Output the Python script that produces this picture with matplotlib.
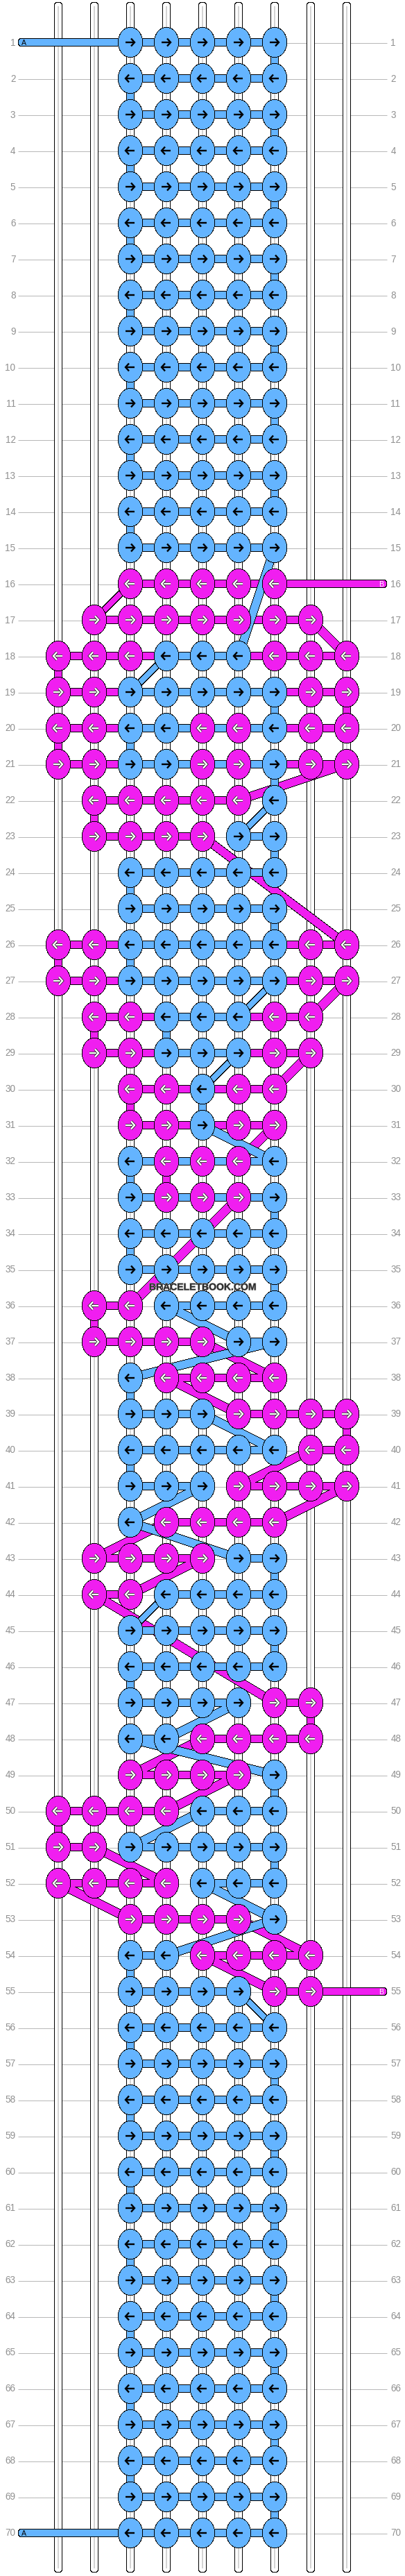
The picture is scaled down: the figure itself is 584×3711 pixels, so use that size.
import matplotlib
matplotlib.use('Agg')
import matplotlib.pyplot as plt
import matplotlib.patheffects as pe
from matplotlib.patches import Ellipse
import numpy as np

PX = 0.72  # one pixel in points at dpi 100

blue = '#64B4FF'
magenta = '#F01EF0'

n_rows = 70
col_x = 84 + 52 * np.arange(9)
row_y = 62 + 52 * np.arange(n_rows)

# knots per row, b = blue, m = magenta, . = no knot
plain_knots = '..bbbbb..'
knot_rows = {
    16: '..mmmmm..', 17: '.mmmmmmm.', 18: 'mmmbbbmmm', 19: 'mmbbbbbmm',
    20: 'mmbbmmbmm', 21: 'mmbbmmbmm', 22: '.mmmmmb..', 23: '.mmmmbb..',
    26: 'mmbbbbbmm', 27: 'mmbbbbbmm', 28: '.mmbbbmm.', 29: '.mmbbbmm.',
    30: '..mmbmm..', 31: '..mmbmm..', 32: '..bmmmb..', 33: '..bmmmb..',
    36: '.mmbbbb..', 37: '.mmmmbb..', 38: '..bmmmm..', 39: '..bbbmmmm',
    40: '..bbbbbmm', 41: '..bbbmmmm', 42: '..bmmmm..', 43: '.mmmmbb..',
    44: '.mmbbbb..', 47: '..bbbbmm.', 48: '..bbmmmm.', 49: '..mmmmb..',
    50: 'mmmmbbb..', 51: 'mmbbbbb..', 52: 'mmmmbbb..', 53: '..mmmmb..',
    54: '..bbmmmm.', 55: '..bbbbmm.',
}

# horizontal links between neighbouring columns
plain_links = '..bbbb..'
link_rows = {
    16: '..mmmm..', 17: '.mmmmmm.', 18: 'mmmbbmmm', 19: 'mmbbbbmm',
    20: 'mmbbbbmm', 21: 'mmbbbbmm', 22: '.mmmm...', 23: '.mmm.b..',
    26: 'mmbbbbmm', 27: 'mmbbbbmm', 28: '.mmbbmm.', 29: '.mmbbmm.',
    30: '..mmmm..', 31: '..mmmm..', 32: '..bbbb..', 33: '..bbbb..',
    36: '.m.bbb..', 37: '.mmm.b..', 38: '...mmm..', 39: '..bb.mmm',
    40: '..bbbb.m', 41: '..bb.mmm', 42: '...mmm..', 43: '.mmm.b..',
    44: '.m.bbb..', 47: '..bbb.m.', 48: '..b.mmm.', 49: '..mmm...',
    50: 'mmm.bb..', 51: 'm.bbbb..', 52: 'mmm.bb..', 53: '..mmm...',
    54: '..b.mmm.', 55: '..bbb.m.',
}

# vertical links: row -> column, going down to the next row
blue_turns = [(1, 6), (2, 2), (3, 6), (4, 2), (5, 6), (6, 2), (7, 6), (8, 2), (9, 6), (10, 2),
              (11, 6), (12, 2), (13, 6), (14, 2), (19, 6), (20, 2), (21, 6), (23, 6), (24, 2),
              (25, 6), (26, 2), (28, 3), (30, 4), (32, 2), (33, 6), (34, 2), (35, 6), (38, 2),
              (40, 2), (43, 6), (45, 6), (46, 2), (49, 6), (51, 6), (54, 2), (56, 2), (57, 6),
              (58, 2), (59, 6), (60, 2), (61, 6), (62, 2), (63, 6), (64, 2), (65, 6), (66, 2),
              (67, 6), (68, 2), (69, 6)]
magenta_turns = [(18, 0), (19, 8), (20, 0), (22, 1), (26, 0), (28, 1), (30, 2), (32, 3),
                 (36, 1), (39, 8), (47, 7), (50, 0)]

# diagonal runs: row, col, row, col
blue_diagonals = [(15, 6, 18, 5), (18, 3, 19, 2), (22, 6, 23, 5), (27, 6, 28, 5), (29, 5, 30, 4),
                  (31, 4, 32, 6), (36, 3, 37, 5), (37, 6, 38, 2), (39, 4, 40, 6), (41, 4, 42, 2),
                  (42, 2, 43, 5), (44, 3, 45, 2), (47, 5, 48, 3), (48, 2, 49, 6), (50, 4, 51, 2),
                  (52, 4, 53, 6), (53, 6, 54, 3), (55, 5, 56, 6)]
magenta_diagonals = [(16, 2, 17, 1), (17, 7, 18, 8), (21, 8, 22, 5), (23, 4, 26, 8), (27, 8, 28, 7),
                     (29, 7, 30, 6), (31, 6, 32, 5), (33, 5, 36, 2), (37, 4, 38, 6), (38, 3, 39, 5),
                     (40, 7, 41, 5), (41, 8, 42, 6), (42, 3, 43, 1), (43, 4, 44, 2), (44, 1, 47, 6),
                     (48, 4, 49, 2), (49, 5, 50, 3), (51, 1, 52, 3), (52, 0, 53, 2), (53, 5, 54, 7),
                     (54, 4, 55, 6)]

# tails: row and column where the thread comes in
blue_tails = [(1, 2), (70, 2)]
magenta_tails = [(16, 6), (55, 7)]

plt.rcParams['font.family'] = ['Liberation Sans', 'DejaVu Sans']

fig = plt.figure(figsize=(5.84, 37.12), dpi=100)
ax = fig.add_axes([0, 0, 1, 1])
ax.set_xlim(0, 584)
ax.set_ylim(3712, 0)
ax.axis('off')


def Y(row):
    return row_y[row - 1]


# row lines and numbers
for r in range(1, n_rows + 1):
    ax.plot([26, 558], [Y(r) + 0.5, Y(r) + 0.5], color='#b8b8b8', lw=1 * PX, zorder=1, solid_capstyle='butt')
    ax.text(22.5, Y(r) - 0.5, str(r), color='#909090', fontsize=13.5 * PX, ha='right', va='center', zorder=1)
    ax.text(563.5, Y(r) - 0.5, str(r), color='#909090', fontsize=13.5 * PX, ha='left', va='center', zorder=1)

# the white strings
for x in col_x:
    ax.plot([x, x], [10.4, 3701], color='black', lw=12 * PX, solid_capstyle='round', zorder=2, antialiased=False)
    ax.plot([x, x], [10.4, 3701], color='white', lw=10 * PX, solid_capstyle='round', zorder=2.1, antialiased=False)
    ax.plot([x, x], [10.4, 3701], color='#d4d4d4', lw=2 * PX, solid_capstyle='butt', zorder=2.2, antialiased=False)


def thread_segments(code, turns, diagonals, tails):
    # straight pieces of one thread, as (xs, ys, thin)
    segs = []
    for r in range(1, n_rows + 1):
        links = link_rows.get(r, plain_links)
        for g, c in enumerate(links):
            if c == code:
                segs.append(([col_x[g], col_x[g + 1]], [Y(r), Y(r)], False))
    for r, c in turns:
        segs.append(([col_x[c], col_x[c]], [Y(r), Y(r + 1)], False))
    for r1, c1, r2, c2 in diagonals:
        steep = abs(c2 - c1) == 1 and r2 - r1 == 1
        thin = steep and (code == 'b' or (r1, c1) == (16, 2))
        segs.append(([col_x[c1], col_x[c2]], [Y(r1), Y(r2)], thin))
    for r, c in tails:
        end = 32.4 if code == 'b' else 552.3
        segs.append(([end, col_x[c]], [Y(r), Y(r)], None))
    return segs


def draw_thread(code, color, turns, diagonals, tails, z):
    segs = thread_segments(code, turns, diagonals, tails)
    for xs, ys, thin in segs:
        w = 9 if thin else 12
        cap = 'round' if thin is None else 'butt'
        ax.plot(xs, ys, color='black', lw=w * PX, solid_capstyle=cap, zorder=z, antialiased=False)
    for xs, ys, thin in segs:
        w = 7 if thin else 10
        cap = 'round' if thin is None else 'butt'
        ax.plot(xs, ys, color=color, lw=w * PX, solid_capstyle=cap, zorder=z + 0.1, antialiased=False)


draw_thread('m', magenta, magenta_turns, magenta_diagonals, magenta_tails, 3)
draw_thread('b', blue, blue_turns, blue_diagonals, blue_tails, 4)

# knots with arrows
for r in range(1, n_rows + 1):
    knots = knot_rows.get(r, plain_knots)
    for c, k in enumerate(knots):
        if k == '.':
            continue
        x, y = col_x[c], Y(r)
        ax.add_patch(Ellipse((x, y), 35.2, 43, facecolor='black', edgecolor='none', lw=0, zorder=5, antialiased=False))
        ax.add_patch(Ellipse((x, y), 33.2, 41, facecolor=blue if k == 'b' else magenta,
                             edgecolor='none', lw=0, zorder=5.1, antialiased=False))
        s = 1 if r % 2 == 1 else -1
        ax_x = x - 0.5
        fg = 'black' if k == 'b' else 'white'
        effects = [] if k == 'b' else [pe.withStroke(linewidth=4 * PX, foreground='#222222')]
        ax.plot([ax_x - 6.5 * s, ax_x + 6.5 * s], [y, y], color=fg, lw=2.4 * PX, zorder=6,
                solid_capstyle='butt', path_effects=effects)
        ax.plot([ax_x + 1.5 * s, ax_x + 6.5 * s, ax_x + 1.5 * s], [y - 5.5, y, y + 5.5], color=fg, lw=2.4 * PX, zorder=6,
                solid_joinstyle='miter', solid_capstyle='butt', path_effects=effects)

# thread names on the tails
for r, c in blue_tails:
    ax.text(34.5, Y(r), 'A', color='black', fontsize=10.5 * PX, ha='center', va='center', zorder=7)
for r, c in magenta_tails:
    ax.text(550, Y(r), 'B', color='white', fontsize=10.5 * PX, ha='center', va='center', zorder=7)

ax.text(292, 1855.5, 'BRACELETBOOK.COM', color='#2a2a2a', fontsize=14 * PX, fontweight='bold',
        ha='center', va='center', zorder=8,
        path_effects=[pe.withStroke(linewidth=1.2 * PX, foreground='#aaaaaa')])

fig.savefig('out.png', dpi=100)
